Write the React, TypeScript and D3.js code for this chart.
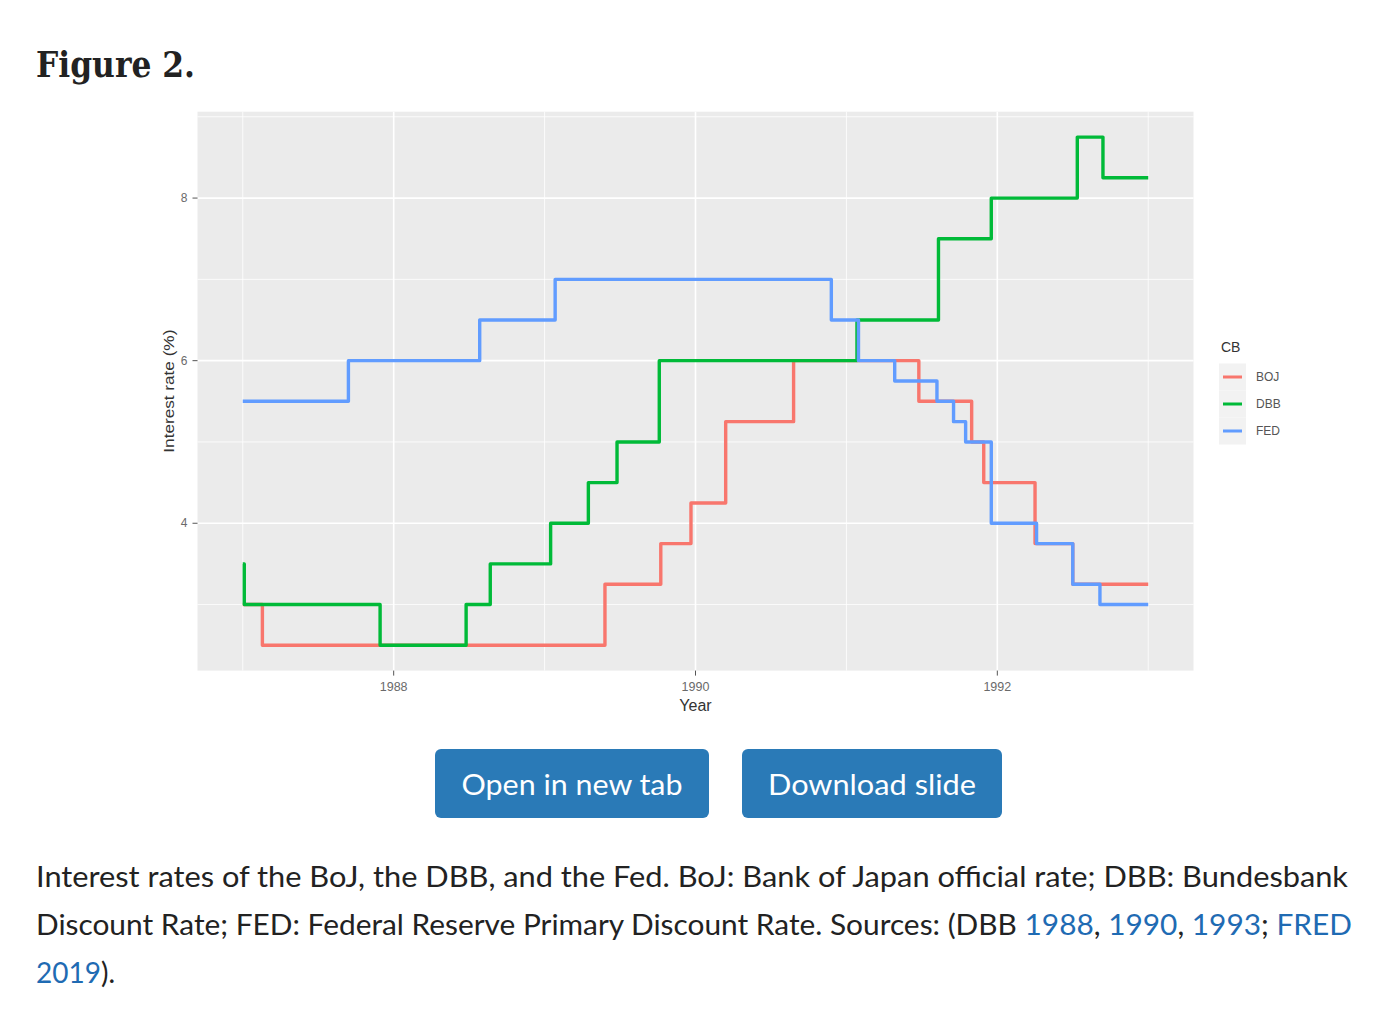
import * as d3 from 'd3';

// Step-series (decimal years, value holds until next date)
const endYear = 1993.0;

const bojDates = [1987.0, 1987.13, 1989.4, 1989.77, 1989.97, 1990.2, 1990.65, 1991.48, 1991.83, 1991.91, 1992.25, 1992.5];
const bojRates = [3.0, 2.5, 3.25, 3.75, 4.25, 5.25, 6.0, 5.5, 5.0, 4.5, 3.75, 3.25];

const dbbDates = [1987.0, 1987.01, 1987.91, 1988.48, 1988.64, 1989.04, 1989.29, 1989.48, 1989.76, 1991.07, 1991.61, 1991.96, 1992.53, 1992.7];
const dbbRates = [3.5, 3.0, 2.5, 3.0, 3.5, 4.0, 4.5, 5.0, 6.0, 6.5, 7.5, 8.0, 8.75, 8.25];

const fedDates = [1987.0, 1987.7, 1988.57, 1989.07, 1990.9, 1991.08, 1991.32, 1991.6, 1991.71, 1991.79, 1991.96, 1992.26, 1992.5, 1992.68];
const fedRates = [5.5, 6.0, 6.5, 7.0, 6.5, 6.0, 5.75, 5.5, 5.25, 5.0, 4.0, 3.75, 3.25, 3.0];

const seriesNames = ['BOJ', 'DBB', 'FED'];
const seriesColors = ['#F8766D', '#00BA38', '#619CFF'];

const xBreaks = [1988, 1990, 1992];
const xMinorBreaks = [1987, 1989, 1991, 1993];
const yBreaks = [4, 6, 8];
const yMinorBreaks = [3, 5, 7, 9];

const W = 1392;
const H = 1016;
const panel = { left: 197.5, right: 1193.5, top: 111.7, bottom: 670.6 };

type Pt = { t: number; v: number };

function toPoints(dates: number[], rates: number[]): Pt[] {
  const pts = dates.map((t, i) => ({ t, v: rates[i] }));
  pts.push({ t: endYear, v: rates[rates.length - 1] });
  return pts;
}

const allSeries = [
  toPoints(bojDates, bojRates),
  toPoints(dbbDates, dbbRates),
  toPoints(fedDates, fedRates),
];

export default function App() {
  // ggplot style 5% expansion around the data range
  const tExt = [1987, endYear];
  const vAll = [...bojRates, ...dbbRates, ...fedRates];
  const vExt = [d3.min(vAll)!, d3.max(vAll)!];
  const tPad = (tExt[1] - tExt[0]) * 0.05;
  const vPad = (vExt[1] - vExt[0]) * 0.05;

  const x = d3.scaleLinear().domain([tExt[0] - tPad, tExt[1] + tPad]).range([panel.left, panel.right]);
  const y = d3.scaleLinear().domain([vExt[0] - vPad, vExt[1] + vPad]).range([panel.bottom, panel.top]);

  const line = d3.line<Pt>()
    .x(d => x(d.t))
    .y(d => y(d.v))
    .curve(d3.curveStepAfter);

  const chartFont = '"Liberation Sans", Arial, sans-serif';
  const bodyFont = 'Lato, "Open Sans", sans-serif';
  const linkColor = '#1f6bb3';
  const textColor = '#222222';

  const legendX = 1219;
  const legendTop = 363.5;
  const keySize = 27;

  return (
    <svg width={W} height={H} style={{ position: 'absolute', left: 0, top: 0, background: '#fff' }}>
      {/* figure heading */}
      <text x={36} y={77} fontFamily='"DejaVu Serif", serif' fontWeight={700} fontSize={35}
        fill={textColor} textLength={159} lengthAdjust="spacingAndGlyphs">Figure 2.</text>

      {/* panel */}
      <rect x={panel.left} y={panel.top} width={panel.right - panel.left} height={panel.bottom - panel.top} fill="#EBEBEB" />
      {yMinorBreaks.map(v => (
        <line key={'ym' + v} x1={panel.left} x2={panel.right} y1={y(v)} y2={y(v)} stroke="#fff" strokeWidth={0.8} />
      ))}
      {xMinorBreaks.map(t => (
        <line key={'xm' + t} x1={x(t)} x2={x(t)} y1={panel.top} y2={panel.bottom} stroke="#fff" strokeWidth={0.8} />
      ))}
      {yBreaks.map(v => (
        <line key={'y' + v} x1={panel.left} x2={panel.right} y1={y(v)} y2={y(v)} stroke="#fff" strokeWidth={1.6} />
      ))}
      {xBreaks.map(t => (
        <line key={'x' + t} x1={x(t)} x2={x(t)} y1={panel.top} y2={panel.bottom} stroke="#fff" strokeWidth={1.6} />
      ))}

      {/* series */}
      {allSeries.map((pts, i) => (
        <path key={seriesNames[i]} d={line(pts) || ''} fill="none" stroke={seriesColors[i]}
          strokeWidth={3.4} strokeLinejoin="round" />
      ))}

      {/* y axis */}
      {yBreaks.map(v => (
        <g key={'yt' + v}>
          <line x1={panel.left - 5} x2={panel.left} y1={y(v)} y2={y(v)} stroke="#555" strokeWidth={1} />
          <text x={panel.left - 10} y={y(v)} dy="0.35em" textAnchor="end" fontFamily={chartFont}
            fontSize={12} fill="#6a6a6a">{v}</text>
        </g>
      ))}
      <text transform={`translate(174,${(panel.top + panel.bottom) / 2}) rotate(-90)`} textAnchor="middle"
        fontFamily={chartFont} fontSize={14} fill="#333" textLength={123} lengthAdjust="spacingAndGlyphs">
        Interest rate (%)
      </text>

      {/* x axis */}
      {xBreaks.map(t => (
        <g key={'xt' + t}>
          <line x1={x(t)} x2={x(t)} y1={panel.bottom} y2={panel.bottom + 5} stroke="#555" strokeWidth={1} />
          <text x={x(t)} y={691} textAnchor="middle" fontFamily={chartFont} fontSize={12.5} fill="#6a6a6a">{t}</text>
        </g>
      ))}
      <text x={(panel.left + panel.right) / 2} y={711} textAnchor="middle" fontFamily={chartFont}
        fontSize={16} fill="#333">Year</text>

      {/* legend */}
      <text x={1221} y={352} fontFamily={chartFont} fontSize={14} fill="#333">CB</text>
      {seriesNames.map((name, i) => {
        const cy = legendTop + i * keySize + keySize / 2;
        return (
          <g key={'lg' + name}>
            <rect x={legendX} y={legendTop + i * keySize} width={keySize} height={keySize} fill="#F2F2F2" />
            <line x1={legendX + 4} x2={legendX + keySize - 4} y1={cy} y2={cy} stroke={seriesColors[i]} strokeWidth={3} />
            <text x={1256} y={cy} dy="0.35em" fontFamily={chartFont} fontSize={12} fill="#555">{name}</text>
          </g>
        );
      })}

      {/* buttons */}
      <rect x={435} y={749} width={274} height={69} rx={6} fill="#2a7ab7" />
      <text x={572} y={795} textAnchor="middle" fontFamily={bodyFont} fontSize={29} fill="#fff"
        textLength={221} lengthAdjust="spacingAndGlyphs">Open in new tab</text>
      <rect x={742} y={749} width={260} height={69} rx={6} fill="#2a7ab7" />
      <text x={872} y={795} textAnchor="middle" fontFamily={bodyFont} fontSize={29} fill="#fff"
        textLength={208} lengthAdjust="spacingAndGlyphs">Download slide</text>

      {/* caption */}
      <g fontFamily={bodyFont} fontSize={28} fill={textColor}>
        <text x={36} y={887} textLength={1312} lengthAdjust="spacingAndGlyphs">
          Interest rates of the BoJ, the DBB, and the Fed. BoJ: Bank of Japan official rate; DBB: Bundesbank
        </text>
        <text x={36} y={935} textLength={1316} lengthAdjust="spacingAndGlyphs">
          Discount Rate; FED: Federal Reserve Primary Discount Rate. Sources: (DBB{' '}
          <tspan fill={linkColor}>1988</tspan>, <tspan fill={linkColor}>1990</tspan>,{' '}
          <tspan fill={linkColor}>1993</tspan>; <tspan fill={linkColor}>FRED</tspan>
        </text>
        <text x={36} y={983}>
          <tspan fill={linkColor}>2019</tspan>).
        </text>
      </g>
    </svg>
  );
}
